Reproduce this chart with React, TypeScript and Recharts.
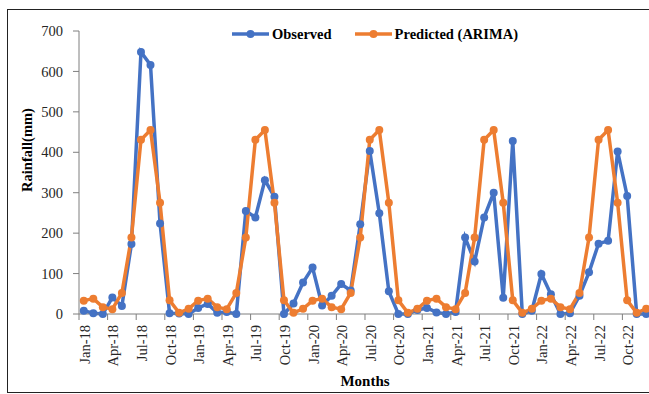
import React from "react";
import { ComposedChart, Line, XAxis, YAxis, Legend } from "recharts";

const MONTH_NAMES = ["Jan", "Feb", "Mar", "Apr", "May", "Jun", "Jul", "Aug", "Sep", "Oct", "Nov", "Dec"];
const YEARS = ["18", "19", "20", "21", "22"];
const months = YEARS.flatMap((y) => MONTH_NAMES.map((m) => `${m}-${y}`));

// observed monthly rainfall (mm), Jan-18 .. Dec-22
const observed = [
  8, 2, 0, 41, 20, 173, 648, 616, 224, 2, 1, 0,
  15, 25, 3, 5, 0, 255, 239, 331, 290, 0, 26, 78,
  115, 21, 45, 74, 58, 222, 403, 249, 56, 0, 0, 10,
  15, 4, 0, 5, 189, 130, 239, 300, 40, 428, 0, 8,
  99, 49, 0, 2, 45, 103, 174, 181, 402, 292, 0, 0,
];

// ARIMA predicted rainfall (mm)
const predicted = [
  33, 38, 17, 12, 52, 189, 431, 455, 275, 34, 3, 13,
  33, 38, 17, 12, 52, 189, 431, 455, 275, 34, 3, 13,
  33, 38, 17, 12, 52, 189, 431, 455, 275, 34, 3, 13,
  33, 38, 17, 12, 52, 189, 431, 455, 275, 34, 3, 13,
  33, 38, 17, 12, 52, 189, 431, 455, 275, 34, 3, 13,
];

const yTicks = [0, 100, 200, 300, 400, 500, 600, 700];

const BLUE = "#4472C4";
const ORANGE = "#ED7D31";
const FONT = "'Liberation Serif', 'Times New Roman', serif";
const AXIS = "#7f7f7f";
const HALF_BAND = 4.77;

const data = months.map((m, i) => ({
  month: m,
  observed: observed[i],
  predicted: predicted[i],
}));

function MonthTick(props: any) {
  const { x, y, payload } = props;
  return (
    <g>
      <line x1={x - HALF_BAND} y1={y} x2={x - HALF_BAND} y2={y + 6} stroke={AXIS} strokeWidth={1} />
      <text
        transform={`translate(${x + 1},${y + 11}) rotate(-90)`}
        textAnchor="end"
        dominantBaseline="central"
        fontFamily={FONT}
        fontSize={14.5}
        fill="#262626"
      >
        {payload.value}
      </text>
    </g>
  );
}

function LegendContent() {
  const items = [
    { label: "Observed", color: BLUE },
    { label: "Predicted (ARIMA)", color: ORANGE },
  ];
  return (
    <div style={{ display: "flex", alignItems: "center" }}>
      {items.map((it, i) => (
        <div key={it.label} style={{ display: "flex", alignItems: "center", marginRight: i === 0 ? 23 : 0 }}>
          <svg width={37} height={10} style={{ display: "block" }}>
            <line x1={0} y1={5} x2={37} y2={5} stroke={it.color} strokeWidth={3.5} />
            <circle cx={18.5} cy={5} r={4} fill={it.color} />
          </svg>
          <span
            style={{
              fontFamily: FONT,
              fontWeight: "bold",
              fontSize: 14.5,
              color: "#000",
              marginLeft: 3,
              lineHeight: "18px",
            }}
          >
            {it.label}
          </span>
        </div>
      ))}
    </div>
  );
}

export default function App() {
  return (
    <div
      style={{
        position: "fixed",
        left: 0,
        top: 0,
        width: 649,
        height: 394,
        overflow: "hidden",
        background: "#fff",
      }}
    >
      <div
        style={{
          position: "absolute",
          left: 7,
          top: 9,
          width: 700,
          height: 382,
          border: "1.5px solid #222",
        }}
      />
      <div style={{ position: "absolute", left: 0, top: 0 }}>
        <ComposedChart
          width={660}
          height={394}
          data={data}
          margin={{ top: 31, right: 9, bottom: 0, left: 0 }}
        >
          <XAxis
            dataKey="month"
            interval={2}
            height={80}
            tickSize={0}
            tickMargin={0}
            tickLine={false}
            padding={{ left: HALF_BAND, right: HALF_BAND }}
            axisLine={{ stroke: AXIS, strokeWidth: 1 }}
            tick={<MonthTick />}
            label={{
              content: (p: any) => {
                const vb = p.viewBox;
                return (
                  <text
                    x={vb.x + vb.width / 2}
                    y={381}
                    textAnchor="middle"
                    dominantBaseline="central"
                    fontFamily={FONT}
                    fontWeight="bold"
                    fontSize={15}
                    fill="#000"
                  >
                    Months
                  </text>
                );
              },
            }}
          />
          <YAxis
            width={79}
            domain={[0, 700]}
            ticks={yTicks}
            tickSize={6}
            tickMargin={10}
            tickLine={{ stroke: AXIS }}
            axisLine={{ stroke: AXIS, strokeWidth: 1 }}
            tick={{ fontFamily: FONT, fontSize: 14.5, fill: "#262626" }}
            label={{
              content: () => (
                <text
                  transform="translate(27,150) rotate(-90)"
                  textAnchor="middle"
                  dominantBaseline="central"
                  fontFamily={FONT}
                  fontWeight="bold"
                  fontSize={14.5}
                  fill="#000"
                >
                  Rainfall(mm)
                </text>
              ),
            }}
          />
          <Legend
            verticalAlign="middle"
            align="center"
            layout="horizontal"
            content={<LegendContent />}
            wrapperStyle={{ position: "absolute", top: 25, left: 232, width: 340 }}
          />
          <Line
            dataKey="observed"
            name="Observed"
            stroke={BLUE}
            strokeWidth={3.5}
            dot={{ r: 4, fill: BLUE, stroke: BLUE, strokeWidth: 0 }}
            activeDot={false}
            isAnimationActive={false}
          />
          <Line
            dataKey="predicted"
            name="Predicted (ARIMA)"
            stroke={ORANGE}
            strokeWidth={3.5}
            dot={{ r: 4, fill: ORANGE, stroke: ORANGE, strokeWidth: 0 }}
            activeDot={false}
            isAnimationActive={false}
          />
        </ComposedChart>
      </div>
    </div>
  );
}
